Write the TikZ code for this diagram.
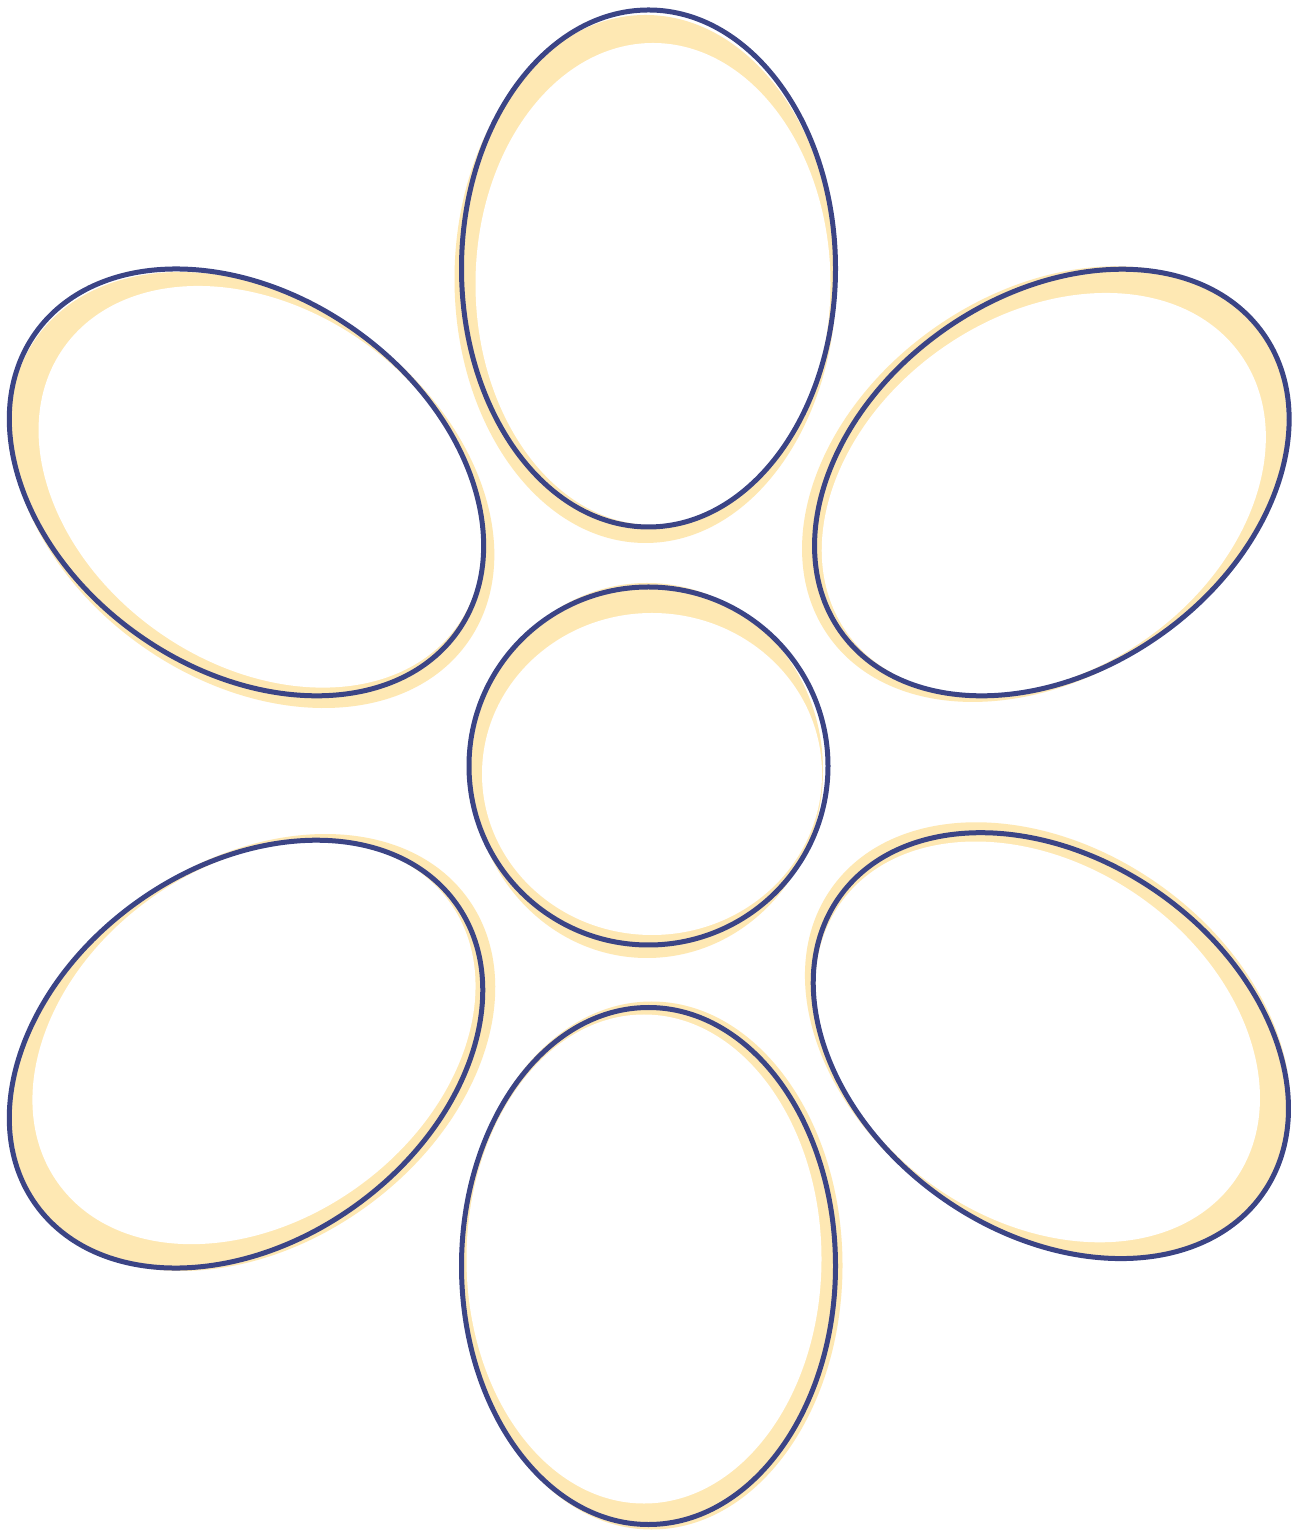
\documentclass[tikz,border=0pt]{standalone}
\usepackage{xcolor}
\usepackage{tikz}
\definecolor{petalblue}{RGB}{59,68,133}
\definecolor{petalgold}{RGB}{254,232,179}
\tikzset{
    rimshade/.style={fill=petalgold, draw=none},
    rimwhite/.style={fill=white, draw=none},
    rimline/.style={draw=petalblue, line width=0.05cm},
}

\begin{document}
\begin{tikzpicture}
    \useasboundingbox (-6.485,-7.65) rectangle (6.565,7.66);
    \fill[white] (-6.485,-7.65) rectangle (6.565,7.66);
    % centre disc
    \path[rimshade] (-0.015,-0.045) ellipse [x radius=1.76, y radius=1.875];
    \path[rimwhite] (0.035,-0.08) ellipse [x radius=1.70, y radius=1.61];
    \draw[rimline] (0,0) ellipse [x radius=1.795, y radius=1.79];
    % petals: angle / distance / shade shift / white shift / white radius
    \foreach \ang/\dist/\ys/\ws/\wr in {90/4.975/-0.105/-0.155/2.41,
            35.1/4.93/-0.07/-0.13/2.41, -34.8/4.90/-0.06/-0.13/2.41,
            -90/5.0/-0.005/-0.07/2.445, -144.4/4.95/-0.07/-0.13/2.41,
            144.8/4.92/-0.09/-0.14/2.41} {
        \begin{scope}[shift={(\ang:\dist)}, rotate=\ang-90]
            \path[rimshade] (-0.03,\ys) ellipse [x radius=1.91, y radius=2.64];
            \path[rimwhite] (0.045,\ws) ellipse [x radius=1.775, y radius=\wr];
            \draw[rimline] (0,0) ellipse [x radius=1.87, y radius=2.585];
        \end{scope}
    }
\end{tikzpicture}
\end{document}
